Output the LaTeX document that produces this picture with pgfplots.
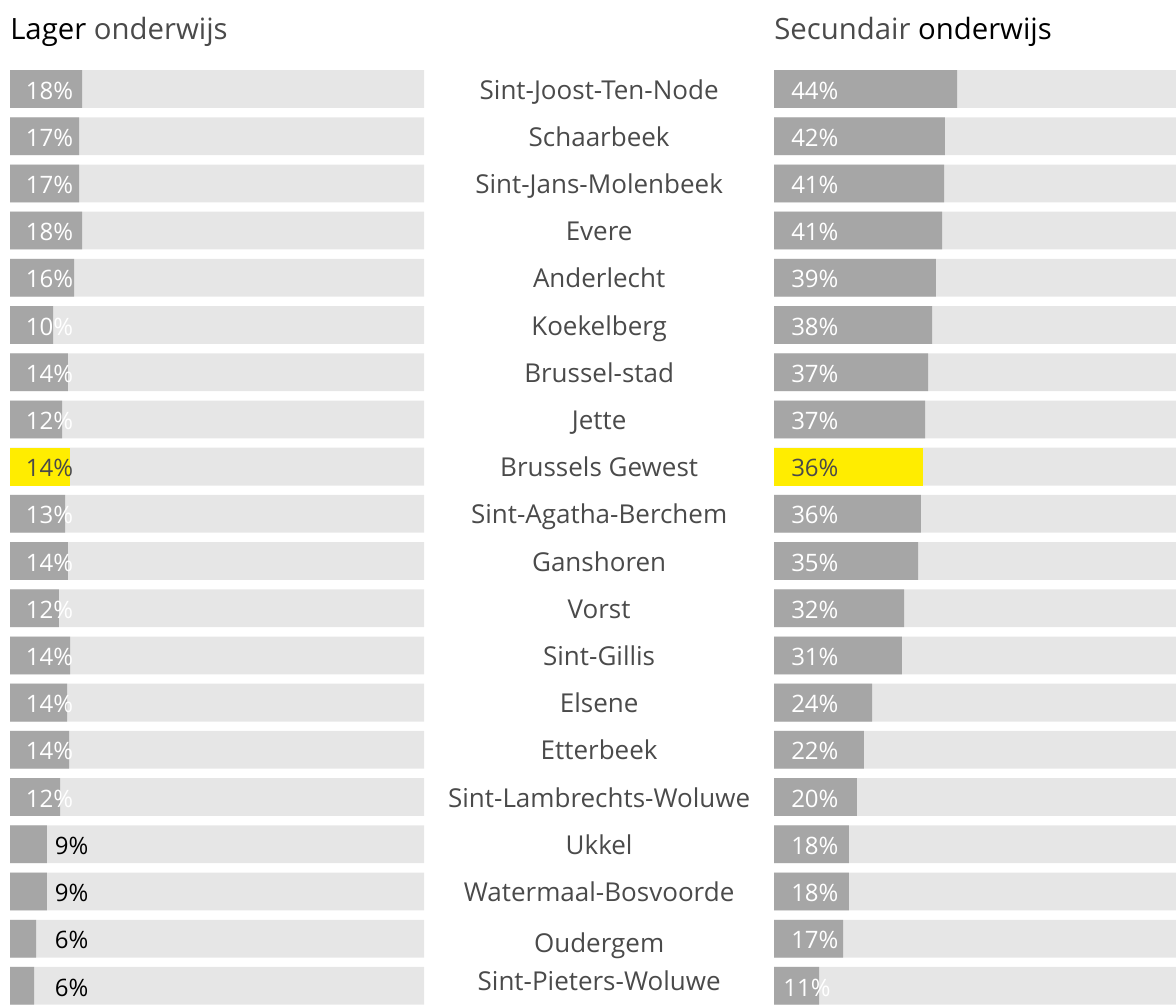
\documentclass[border=0pt]{standalone}
\usepackage{pgfplots}
\pgfplotsset{compat=1.18}
\usepackage{fontspec}
\setmainfont{Open Sans}
\definecolor{bargray}{HTML}{A6A6A6}
\definecolor{bggray}{HTML}{E6E6E6}
\definecolor{flyellow}{HTML}{FFED00}
\definecolor{txtgray}{HTML}{4A4A4A}
\pgfplotsset{
  panel/.style={scale only axis, width=310.5pt, height=708pt,
    xmin=0, xmax=100, ymin=0.5, ymax=20.5, y dir=reverse,
    hide axis, clip=false, bar width=0.8, anchor=north west,
    /pgf/number format/assume math mode=true},
  bars/.style={xbar, bar shift=0pt, draw=none},
  lbl/.style={draw=none, mark=none, point meta=explicit,
    nodes near coords={\pgfmathprintnumber{\pgfplotspointmeta}\%},
    every node near coord/.append style={anchor=base west, yshift=-7.5pt, inner sep=0pt, font=\fontsize{18}{20}\selectfont, #1}},
}
\begin{document}
\begin{tikzpicture}
\useasboundingbox (0,0) rectangle (882pt,-753pt);
\node[anchor=base west, inner sep=0pt, font=\fontsize{22}{24}\selectfont] at (7.5pt,-29.25pt) {Lager \textcolor{txtgray}{onderwijs}};
\node[anchor=base west, inner sep=0pt, font=\fontsize{22}{24}\selectfont] at (580.5pt,-29.25pt) {\textcolor{txtgray}{Secundair} onderwijs};
% left panel
\begin{axis}[panel, at={(7.5pt,-49.05pt)}]
\addplot[bars, fill=bggray] coordinates {(100,1)(100,2)(100,3)(100,4)(100,5)(100,6)(100,7)(100,8)(100,9)(100,10)(100,11)(100,12)(100,13)(100,14)(100,15)(100,16)(100,17)(100,18)(100,19)(100,20)};
\addplot[bars, fill=bargray] coordinates {(17.4,1)(16.7,2)(16.7,3)(17.4,4)(15.5,5)(10.4,6)(14.0,7)(12.6,8)(13.3,10)(14.0,11)(11.8,12)(14.5,13)(13.8,14)(14.3,15)(12.1,16)(8.9,17)(8.9,18)(6.3,19)(5.8,20)};
\addplot[bars, fill=flyellow] coordinates {(14.5,9)};
\addplot[lbl={white}] coordinates {(3.8,1)[18](3.8,2)[17](3.8,3)[17](3.8,4)[18](3.8,5)[16](3.8,6)[10](3.8,7)[14](3.8,8)[12](3.8,10)[13](3.8,11)[14](3.8,12)[12](3.8,13)[14](3.8,14)[14](3.8,15)[14](3.8,16)[12]};
\addplot[lbl={txtgray}] coordinates {(3.8,9)[14]};
\addplot[lbl={black}] coordinates {(10.8,17)[9](10.8,18)[9](10.8,19)[6](10.8,20.02)[6]};
\addplot[draw=none, mark=none, point meta=explicit symbolic,
  nodes near coords={\pgfplotspointmeta},
  every node near coord/.append style={anchor=base, yshift=-7.5pt, inner sep=0pt, text=txtgray, font=\fontsize{19.5}{22}\selectfont}]
  coordinates {(142.3,1)[Sint-Joost-Ten-Node](142.3,2)[Schaarbeek](142.3,3)[Sint-Jans-Molenbeek](142.3,4)[Evere](142.3,5)[Anderlecht](142.3,6)[Koekelberg](142.3,7)[Brussel-stad](142.3,8)[Jette](142.3,9)[Brussels Gewest](142.3,10)[Sint-Agatha-Berchem](142.3,11)[Ganshoren](142.3,12)[Vorst](142.3,13)[Sint-Gillis](142.3,14)[Elsene](142.3,15)[Etterbeek](142.3,16)[Sint-Lambrechts-Woluwe](142.3,17)[Ukkel](142.3,18)[Watermaal-Bosvoorde](142.3,19.08)[Oudergem](142.3,19.88)[Sint-Pieters-Woluwe]};
\end{axis}
% right panel
\begin{axis}[panel, at={(580.5pt,-49.05pt)}]
\addplot[bars, fill=bggray] coordinates {(100,1)(100,2)(100,3)(100,4)(100,5)(100,6)(100,7)(100,8)(100,9)(100,10)(100,11)(100,12)(100,13)(100,14)(100,15)(100,16)(100,17)(100,18)(100,19)(100,20)};
\addplot[bars, fill=bargray] coordinates {(44.2,1)(41.3,2)(41.1,3)(40.6,4)(39.1,5)(38.2,6)(37.2,7)(36.5,8)(35.5,10)(34.8,11)(31.4,12)(30.9,13)(23.7,14)(21.7,15)(20.0,16)(18.1,17)(18.1,18)(16.7,19)(10.9,20)};
\addplot[bars, fill=flyellow] coordinates {(36.0,9)};
\addplot[lbl={white}] coordinates {(4.1,1)[44](4.1,2)[42](4.1,3)[41](4.1,4)[41](4.1,5)[39](4.1,6)[38](4.1,7)[37](4.1,8)[37](4.1,10)[36](4.1,11)[35](4.1,12)[32](4.1,13)[31](4.1,14)[24](4.1,15)[22](4.1,16)[20](4.1,17)[18](4.1,18)[18](4.1,19)[17](2.2,20.02)[11]};
\addplot[lbl={txtgray}] coordinates {(4.1,9)[36]};
\end{axis}
\end{tikzpicture}
\end{document}
